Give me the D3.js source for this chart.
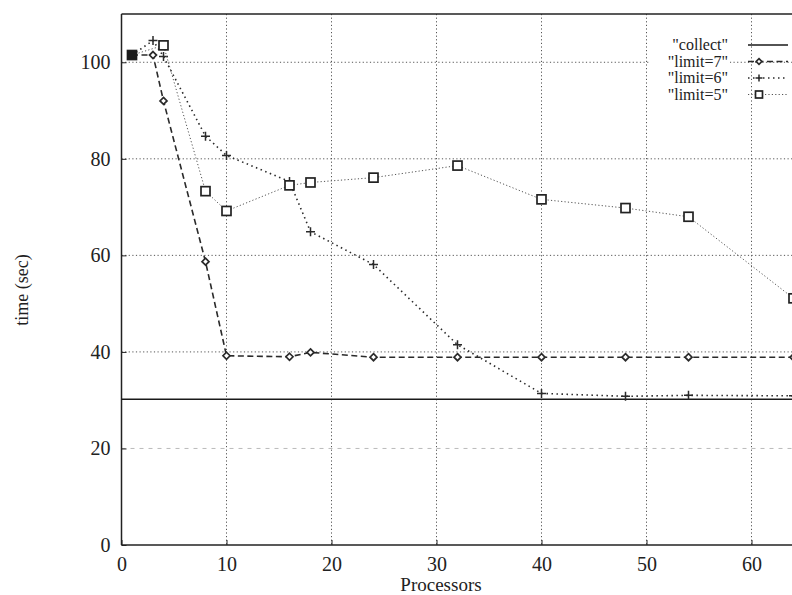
<!DOCTYPE html>
<html>
<head>
<meta charset="utf-8">
<script src="https://cdn.jsdelivr.net/npm/d3@7"></script>
<style>
  body { margin: 0; background: #fff; }
  #canvas text { font-family: "Liberation Serif", "Times New Roman", Times, serif !important; fill: #222; }
</style>
</head>
<body>
<svg id="canvas" width="792" height="595"></svg>
<script>
// values
let xTicks = [0, 10, 20, 30, 40, 50, 60]
let yTicks = [0, 20, 40, 60, 80, 100]

let collectX = [0, 64]
let collectY = [30.2, 30.2]

let limit7X = [1, 3, 4, 8, 10, 16, 18, 24, 32, 40, 48, 54, 64]
let limit7Y = [101.5, 101.5, 92, 58.7, 39.2, 39, 39.9, 38.9, 38.9, 38.9, 38.9, 38.9, 38.9]

let limit6X = [1, 3, 4, 8, 10, 16, 18, 24, 32, 40, 48, 54, 64]
let limit6Y = [101.5, 104.5, 101.2, 84.7, 80.7, 75.3, 64.9, 58.1, 41.5, 31.4, 30.8, 31, 30.9]

let limit5X = [1, 4, 8, 10, 16, 18, 24, 32, 40, 48, 54, 64]
let limit5Y = [101.5, 103.5, 73.3, 69.2, 74.5, 75.1, 76.1, 78.6, 71.6, 69.8, 68, 51.1]

let seriesNames = ['"collect"', '"limit=7"', '"limit=6"', '"limit=5"']

let canvas = d3.select('#canvas')

let xScale = d3.scaleLinear().domain([0, 64]).range([121.5, 793.5])
let yScale = d3.scaleLinear().domain([0, 110]).range([545, 14])

let plotLeft = xScale(0), plotRight = xScale(64), plotTop = yScale(110), plotBottom = yScale(0)

// grid
canvas.append('g')
    .selectAll('line')
    .data(xTicks.filter(d => d > 0))
    .enter()
    .append('line')
    .attr('x1', d => xScale(d)).attr('x2', d => xScale(d))
    .attr('y1', plotTop).attr('y2', plotBottom)
    .attr('stroke', '#555')
    .attr('stroke-width', 1)
    .attr('stroke-dasharray', '1.2,2.4')

canvas.append('g')
    .selectAll('line')
    .data(yTicks.filter(d => d > 0))
    .enter()
    .append('line')
    .attr('x1', plotLeft).attr('x2', plotRight)
    .attr('y1', d => yScale(d)).attr('y2', d => yScale(d))
    .attr('stroke', d => d === 20 ? '#bbb' : '#555')
    .attr('stroke-width', 1)
    .attr('stroke-dasharray', d => d === 20 ? '4,5' : '1.2,2.4')

// axes
let xAxis = d3.axisBottom(xScale).tickValues(xTicks).tickSize(-5).tickPadding(12)
let yAxis = d3.axisLeft(yScale).tickValues(yTicks).tickSize(-5).tickPadding(11)

let gx = canvas.append('g').attr('transform', 'translate(0,' + plotBottom + ')').call(xAxis)
let gy = canvas.append('g').attr('transform', 'translate(' + plotLeft + ',0)').call(yAxis)

for (let g of [gx, gy]) {
    g.attr('font-family', null).attr('font-size', null)
    g.select('.domain').remove()
    g.selectAll('line').attr('stroke', '#222')
    g.selectAll('text').style('font-size', '20px')
}

// frame
canvas.append('line')
    .attr('x1', plotLeft).attr('x2', plotRight).attr('y1', plotBottom).attr('y2', plotBottom)
    .attr('stroke', '#222').attr('stroke-width', 1.5)
canvas.append('line')
    .attr('x1', plotLeft).attr('x2', plotLeft).attr('y1', plotTop).attr('y2', plotBottom)
    .attr('stroke', '#222').attr('stroke-width', 1.5)
canvas.append('line')
    .attr('x1', plotLeft).attr('x2', plotRight).attr('y1', plotTop).attr('y2', plotTop)
    .attr('stroke', '#222').attr('stroke-width', 1.5)

// axis titles
canvas.append('text')
    .attr('x', 441)
    .attr('y', 591)
    .attr('text-anchor', 'middle')
    .style('font-size', '19px')
    .text('Processors')

canvas.append('text')
    .attr('transform', 'translate(28,' + 290 + ') rotate(-90)')
    .attr('text-anchor', 'middle')
    .style('font-size', '18px')
    .text('time (sec)')

// series
let series = [
    { name: seriesNames[0], xs: collectX, ys: collectY, dash: null, width: 1.6, color: '#1a1a1a', marker: null },
    { name: seriesNames[1], xs: limit7X, ys: limit7Y, dash: '6,3.5', width: 1.6, color: '#2a2a2a', marker: 'diamond' },
    { name: seriesNames[2], xs: limit6X, ys: limit6Y, dash: '1.5,3.5', width: 1.6, color: '#2a2a2a', marker: 'plus' },
    { name: seriesNames[3], xs: limit5X, ys: limit5Y, dash: '1.2,2.2', width: 1, color: '#555', marker: 'square' }
]

let line = d3.line().x(d => xScale(d[0])).y(d => yScale(d[1]))

let drawMarker = (g, kind, x, y, color, r) => {
    if (kind === 'diamond') {
        g.append('path')
            .attr('d', 'M' + x + ',' + (y - r) + 'L' + (x + r) + ',' + y + 'L' + x + ',' + (y + r) + 'L' + (x - r) + ',' + y + 'Z')
            .attr('fill', '#fff').attr('stroke', color).attr('stroke-width', 1.7)
    } else if (kind === 'plus') {
        g.append('path')
            .attr('d', 'M' + (x - r) + ',' + y + 'H' + (x + r) + 'M' + x + ',' + (y - r) + 'V' + (y + r))
            .attr('stroke', color).attr('stroke-width', 1.5)
    } else if (kind === 'square') {
        g.append('rect')
            .attr('x', x - r).attr('y', y - r).attr('width', 2 * r).attr('height', 2 * r)
            .attr('fill', '#fff').attr('stroke', '#222').attr('stroke-width', 1.7)
    }
}

let markerSize = { diamond: 3.5, plus: 4.5, square: 4.5 }

series.forEach(s => {
    let pts = s.xs.map((x, i) => [x, s.ys[i]])
    let g = canvas.append('g')
    g.append('path')
        .attr('d', line(pts))
        .attr('fill', 'none')
        .attr('stroke', s.color)
        .attr('stroke-width', s.width)
        .attr('stroke-dasharray', s.dash)
    if (s.marker) {
        pts.forEach(p => drawMarker(g, s.marker, xScale(p[0]), yScale(p[1]), s.color, markerSize[s.marker]))
    }
})

// the overlapping start point looks like a filled square
canvas.append('rect')
    .attr('x', xScale(limit5X[0]) - 5).attr('y', yScale(limit5Y[0]) - 4.5)
    .attr('width', 10).attr('height', 9).attr('fill', '#1a1a1a')

// legend
let legend = canvas.append('g')
series.forEach((s, i) => {
    let y = 45 + i * 16.5
    legend.append('rect')
        .attr('x', 650).attr('y', y - 11).attr('width', 80).attr('height', 15)
        .attr('fill', '#fff')
    legend.append('text')
        .attr('x', 728).attr('y', y + 5)
        .attr('text-anchor', 'end')
        .style('font-size', '16px')
        .text(s.name)
    legend.append('line')
        .attr('x1', 748).attr('x2', 788).attr('y1', y).attr('y2', y)
        .attr('stroke', s.color).attr('stroke-width', s.width)
        .attr('stroke-dasharray', s.dash)
    if (s.marker) drawMarker(legend, s.marker, 759, y, s.color, s.marker === 'diamond' ? 2.8 : 3.5)
})
</script>
</body>
</html>
